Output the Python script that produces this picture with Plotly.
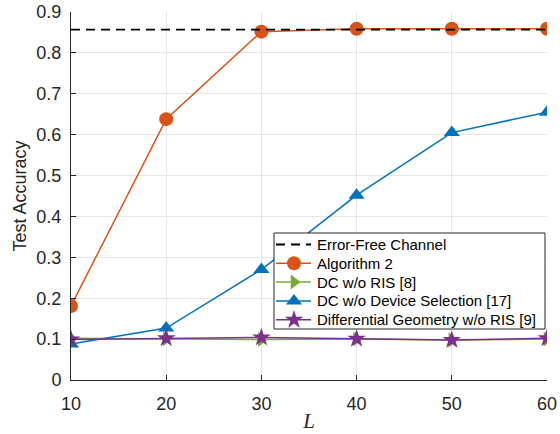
import plotly.graph_objects as go

# ---- data ----
L = [10, 20, 30, 40, 50, 60]
error_free = [0.857, 0.857, 0.857, 0.857, 0.857, 0.857]
algorithm2 = [0.181, 0.638, 0.852, 0.859, 0.859, 0.859]
dc_wo_ris = [0.102, 0.101, 0.099, 0.100, 0.098, 0.100]
dc_wo_sel = [0.088, 0.127, 0.270, 0.452, 0.605, 0.655]
dg_wo_ris = [0.099, 0.102, 0.104, 0.101, 0.098, 0.102]

y_ticks = [0, 0.1, 0.2, 0.3, 0.4, 0.5, 0.6, 0.7, 0.8, 0.9]
y_labels = ["0", "0.1", "0.2", "0.3", "0.4", "0.5", "0.6", "0.7", "0.8", "0.9"]
x_ticks = [10, 20, 30, 40, 50, 60]

series_names = ["Error-Free Channel", "Algorithm 2", "DC w/o RIS [8]",
                "DC w/o Device Selection [17]", "Differential Geometry w/o RIS [9]"]

# ---- styles ----
ORANGE, GREEN, BLUE, PURPLE = "#D95319", "#77AC30", "#0072BD", "#7E2F8E"
styles = [
    dict(color="black", dash="9px,6px", width=1.8, symbol=None, size=0),
    dict(color=ORANGE, dash="solid", width=1.5, symbol="circle", size=14),
    dict(color=GREEN, dash="solid", width=1.5, symbol="triangle-right", size=13),
    dict(color=BLUE, dash="solid", width=1.5, symbol="triangle-up", size=14),
    dict(color=PURPLE, dash="solid", width=1.5, symbol="star", size=14),
]
values = [error_free, algorithm2, dc_wo_ris, dc_wo_sel, dg_wo_ris]

fig = go.Figure()

# data traces (error-free drawn last so it lies on top, as in the reference)
for idx in [1, 2, 3, 4, 0]:
    st = styles[idx]
    if st["symbol"] is None:
        fig.add_trace(go.Scatter(x=L, y=values[idx], name=series_names[idx], mode="lines",
                                 line=dict(color=st["color"], width=st["width"], dash=st["dash"]),
                                 showlegend=False))
    else:
        fig.add_trace(go.Scatter(x=L, y=values[idx], name=series_names[idx], mode="lines+markers",
                                 line=dict(color=st["color"], width=st["width"], dash=st["dash"]),
                                 marker=dict(symbol=st["symbol"], size=st["size"], color=st["color"]),
                                 showlegend=False))

# ---- hand-made legend on an overlay axis measured in figure pixels ----
PX_LEFT, PX_RIGHT, PX_TOP, PX_BOTTOM = 71, 547, 12, 380
box_x0, box_x1, box_y0, box_y1 = 274, 545, 233, 329
row_y0, row_dy = 244.5, 18.8
samp_x0, samp_x1, samp_xm, text_x = 276, 311, 294, 315

fig.add_trace(go.Scatter(
    x=[box_x0, box_x1, box_x1, box_x0, box_x0], y=[box_y0, box_y0, box_y1, box_y1, box_y0],
    mode="lines", fill="toself", fillcolor="white", line=dict(color="#262626", width=1),
    xaxis="x2", yaxis="y2", showlegend=False, hoverinfo="skip"))

for i, (name, st) in enumerate(zip(series_names, styles)):
    ry = row_y0 + i * row_dy
    fig.add_trace(go.Scatter(
        x=[samp_x0, samp_x1], y=[ry, ry], mode="lines",
        line=dict(color=st["color"], width=st["width"], dash=st["dash"]),
        xaxis="x2", yaxis="y2", showlegend=False, hoverinfo="skip"))
    if st["symbol"] is not None:
        fig.add_trace(go.Scatter(
            x=[samp_xm], y=[ry], mode="markers",
            marker=dict(symbol=st["symbol"], size=st["size"], color=st["color"]),
            xaxis="x2", yaxis="y2", showlegend=False, hoverinfo="skip"))
    fig.add_annotation(x=text_x, y=ry, xref="x2", yref="y2", text=name, showarrow=False,
                       xanchor="left", yanchor="middle",
                       font=dict(family="Liberation Sans, Arial", size=15, color="black"))

axis_common = dict(
    showline=True, linecolor="#262626", linewidth=1,
    showgrid=True, gridcolor="#E6E6E6", gridwidth=1,
    ticks="inside", ticklen=5, tickcolor="#262626",
    tickfont=dict(family="Liberation Sans, Arial", size=18, color="#262626"),
    zeroline=False, mirror=False, automargin=False,
)

fig.update_layout(
    width=560, height=434,
    margin=dict(l=PX_LEFT, r=560 - PX_RIGHT, t=PX_TOP, b=434 - PX_BOTTOM, pad=0),
    paper_bgcolor="white", plot_bgcolor="white",
    showlegend=False,
    xaxis=dict(range=[10, 60], tickvals=x_ticks, ticklabelstandoff=7, **axis_common,
               title=dict(text="L", font=dict(family="Liberation Serif, Times New Roman", size=21,
                                              color="#262626", style="italic"), standoff=0)),
    yaxis=dict(range=[0, 0.9], tickvals=y_ticks, ticktext=y_labels, ticklabelstandoff=5, **axis_common,
               title=dict(text="Test Accuracy", font=dict(family="Liberation Sans, Arial", size=18,
                                                          color="#262626"), standoff=5)),
    xaxis2=dict(overlaying="x", anchor="y2", range=[PX_LEFT, PX_RIGHT], visible=False,
                fixedrange=True),
    yaxis2=dict(overlaying="y", anchor="x2", range=[PX_BOTTOM, PX_TOP], visible=False,
                fixedrange=True),
)

fig.write_html("out.html", config={"displayModeBar": False},
               post_script="document.body.style.margin='0';")
